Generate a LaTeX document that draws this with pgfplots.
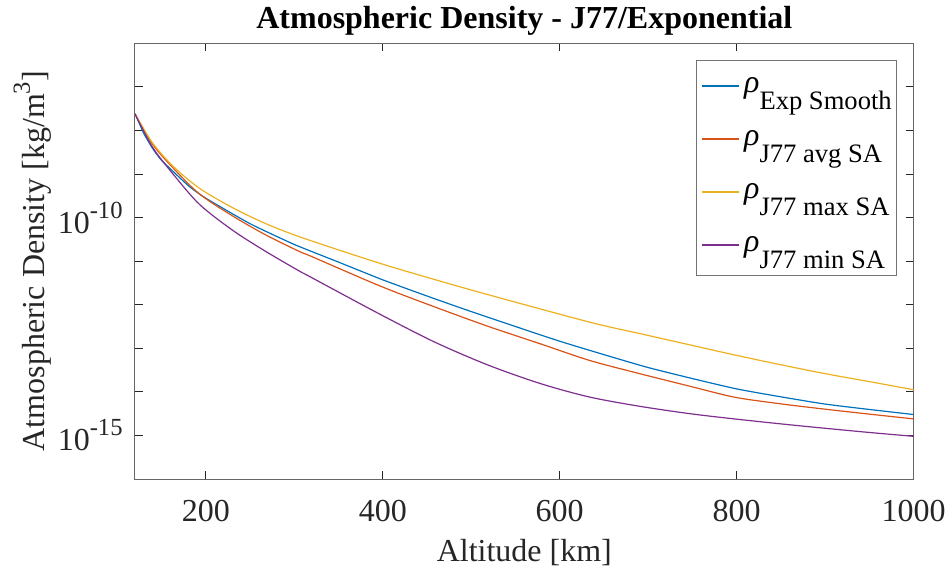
\documentclass[border=0pt]{standalone}
\usepackage{fontspec}
\setmainfont{Liberation Serif}
\usepackage{graphicx}
\usepackage{pgfplots}
\pgfplotsset{compat=1.18}
\definecolor{mblue}{rgb}{0,0.447,0.741}
\definecolor{morange}{rgb}{0.850,0.325,0.098}
\definecolor{myellow}{rgb}{0.929,0.694,0.125}
\definecolor{mpurple}{rgb}{0.494,0.184,0.556}
\definecolor{axgray}{rgb}{0.15,0.15,0.15}
\newcommand{\sub}[1]{\raisebox{-8.5pt}{\fontsize{13.3}{14}\selectfont #1}}
\newcommand{\ex}[1]{10\raisebox{7.5pt}{\fontsize{12.3}{13}\selectfont #1}}

\begin{document}
\begin{tikzpicture}
\useasboundingbox (-67.5pt,-45pt) rectangle (406.5pt,239.5pt);
\begin{axis}[
  at={(0,0)}, anchor=south west,
  scale only axis, width=389.35pt, height=217.85pt,
  xmin=120, xmax=1000,
  ymode=log, ymin=1e-16, ymax=1e-6,
  xtick={200,400,600,800,1000},
  ytick={1e-15,1e-10},
  yticklabels={\ex{-15},\ex{-10}},
  minor ytick={1e-16,1e-14,1e-13,1e-12,1e-11,1e-9,1e-8,1e-7,1e-6},
  /pgf/number format/assume math mode=true,
  /pgf/number format/1000 sep={},
  tick align=inside,
  major tick length=3.85pt, minor tick length=3.85pt,
  axis line style={draw=black!60, line width=0.5pt},
  every tick/.style={draw=axgray, line width=0.5pt},
  every minor tick/.style={draw=axgray, line width=0.5pt},
  tick label style={font=\fontsize{16}{19}\selectfont, text=axgray},
  xticklabel style={anchor=base, yshift=-21.3pt},
  yticklabel style={anchor=east, inner sep=0pt, xshift=-6pt},
  title={\bfseries Atmospheric Density - J77/Exponential},
  title style={at={(0.5,1)}, anchor=base, yshift=1.5pt, font=\fontsize{16}{19}\selectfont},
  xlabel={Altitude [km]},
  xlabel style={at={(axis description cs:0.5,-0.1882)}, anchor=base, font=\fontsize{16}{19}\selectfont, text=axgray},
  ylabel={Atmospheric Density [kg/m\raisebox{7.5pt}{\fontsize{12.3}{13}\selectfont 3}]},
  ylabel style={at={(axis description cs:-0.1156,0.5)}, anchor=base, font=\fontsize{16}{19}\selectfont, text=axgray},
  legend style={at={(1,1)}, anchor=north east, xshift=-8.2pt, yshift=-8.35pt,
    draw=black!55, line width=0.5pt, fill=white, inner ysep=0.75pt, inner xsep=2pt,
    font=\fontsize{16}{19}\selectfont,
    nodes={inner sep=0.5pt, text height=14.6pt, text depth=10.9pt},
    /tikz/every odd column/.append style={column sep=1.8pt}},
  legend cell align=left,
  legend image post style={xscale=1.09, yshift=1.25pt},
  every axis plot/.append style={line width=0.6pt},
]
\addlegendimage{color=mblue, line width=0.7pt}
\addlegendentry{\textit{ρ}\sub{Exp Smooth}}
\addlegendimage{color=morange, line width=0.7pt}
\addlegendentry{\textit{ρ}\sub{J77 avg SA}}
\addlegendimage{color=myellow, line width=0.7pt}
\addlegendentry{\textit{ρ}\sub{J77 max SA}}
\addlegendimage{color=mpurple, line width=0.7pt}
\addlegendentry{\textit{ρ}\sub{J77 min SA}}
\addplot[mblue, smooth, tension=0.3, forget plot] coordinates {
(120,2.438e-8) (130,8.484e-9) (140,3.845e-9) (150,2.070e-9) (180,5.464e-10)
(200,2.789e-10) (250,7.248e-11) (300,2.418e-11) (350,9.518e-12) (400,3.725e-12)
(450,1.585e-12) (500,6.967e-13) (600,1.454e-13) (700,3.614e-14) (800,1.170e-14)
(900,5.245e-15) (1000,3.019e-15)};
\addplot[morange, smooth, tension=0.5, forget plot] coordinates {
(120,2.40e-8) (140,4.79e-9) (163,1.38e-9) (193,3.47e-10) (231,1.07e-10)
(268,3.98e-11) (306,1.66e-11) (318,1.32e-11) (397,2.69e-12) (460,8.71e-13)
(521,3.09e-13) (580,1.23e-13) (634,5.25e-14) (690,2.63e-14) (747,1.35e-14)
(797,7.59e-15) (848,5.37e-15) (897,4.07e-15) (954,3.02e-15) (1000,2.40e-15)};
\addplot[myellow, smooth, tension=0.5, forget plot] coordinates {
(120,2.40e-8) (140,5.13e-9) (163,1.51e-9) (193,4.68e-10) (231,1.66e-10)
(268,7.24e-11) (310,3.39e-11) (397,8.91e-12) (460,3.72e-12) (521,1.66e-12)
(634,3.98e-13) (690,2.19e-13) (747,1.20e-13) (797,7.08e-14) (848,4.27e-14)
(897,2.69e-14) (954,1.66e-14) (1000,1.12e-14)};
\addplot[mpurple, smooth, tension=0.5, forget plot] coordinates {
(120,2.40e-8) (140,4.07e-9) (163,1.00e-9) (193,2.00e-10) (231,5.01e-11)
(268,1.66e-11) (306,5.89e-12) (318,4.37e-12) (397,6.03e-13) (460,1.35e-13)
(521,3.98e-14) (580,1.51e-14) (634,7.59e-15) (690,4.68e-15) (747,3.16e-15)
(797,2.40e-15) (848,1.86e-15) (897,1.48e-15) (954,1.15e-15) (1000,9.55e-16)};
\end{axis}
\end{tikzpicture}
\end{document}
